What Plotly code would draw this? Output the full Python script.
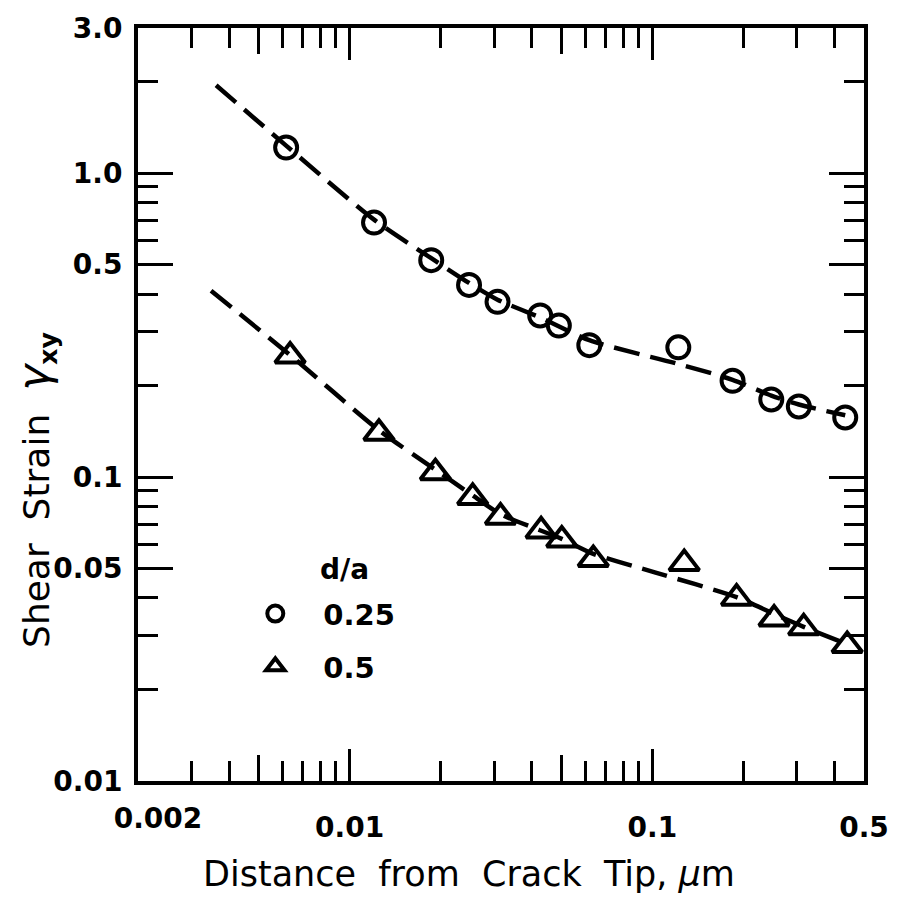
import math
import plotly.graph_objects as go

# Shear strain vs. distance from the crack tip, d/a = 0.25
dist_025 = [0.00617, 0.01204, 0.0186, 0.0248, 0.0308, 0.0426, 0.0491,
            0.0619, 0.1218, 0.184, 0.247, 0.3046, 0.4335]
strain_025 = [1.213, 0.687, 0.517, 0.4285, 0.377, 0.34, 0.315,
              0.2715, 0.267, 0.2073, 0.1799, 0.1706, 0.157]

# d/a = 0.5
dist_05 = [0.00636, 0.0125, 0.0192, 0.0255, 0.0315, 0.0429, 0.0502,
           0.0638, 0.1274, 0.1897, 0.2523, 0.316, 0.440]
strain_05 = [0.250, 0.1394, 0.1033, 0.0857, 0.0738, 0.0665, 0.0621,
             0.0535, 0.0519, 0.03995, 0.0341, 0.0319, 0.0279]

# Fitted trend curves (dashed)
fit_x_025 = [0.003622, 0.00617, 0.01204, 0.0186, 0.0248, 0.0308, 0.0426,
             0.0619, 0.1218, 0.184, 0.247, 0.3046, 0.4335]
fit_y_025 = [1.944, 1.231, 0.7025, 0.5245, 0.4349, 0.3831, 0.3348,
             0.2818, 0.2354, 0.2089, 0.1853, 0.1732, 0.1596]
fit_x_05 = [0.003486, 0.00636, 0.0125, 0.0192, 0.0255, 0.0315, 0.0502,
            0.0638, 0.1025, 0.1897, 0.2523, 0.316, 0.4433]
fit_y_05 = [0.4099, 0.2519, 0.1426, 0.1057, 0.0870, 0.0755, 0.0626,
            0.0559, 0.0485, 0.04026, 0.03543, 0.03215, 0.02809]

# Axis ticks
x_range = [0.002, 0.5]
y_range = [0.01, 3.0]
x_major = [0.01, 0.1, 0.5]
x_major_text = ["0.01", "0.1", "0.5"]
x_mid = [0.005, 0.05]
x_first = [0.002]
x_first_text = ["0.002"]
x_minor = [0.003, 0.004, 0.006, 0.007, 0.008, 0.009,
           0.02, 0.03, 0.04, 0.06, 0.07, 0.08, 0.09,
           0.2, 0.3, 0.4]
y_major = [0.01, 0.05, 0.1, 0.5, 1.0, 3.0]
y_major_text = ["0.01", "0.05", "0.1", "0.5", "1.0", "3.0"]
y_minor = [0.02, 0.03, 0.04, 0.06, 0.07, 0.08, 0.09,
           0.2, 0.3, 0.4, 0.6, 0.7, 0.8, 0.9, 2.0]

lx = [math.log10(v) for v in x_range]
ly = [math.log10(v) for v in y_range]

FONT = "DejaVu Sans"
INK = "black"

fig = go.Figure()

dash_line = dict(color=INK, width=4.5, dash="26px,11px", shape="spline", smoothing=0.7)
fig.add_trace(go.Scatter(x=fit_x_025, y=fit_y_025, mode="lines",
                         line=dash_line, showlegend=False, hoverinfo="skip"))
fig.add_trace(go.Scatter(x=fit_x_05, y=fit_y_05, mode="lines",
                         line=dash_line, showlegend=False, hoverinfo="skip"))

fig.add_trace(go.Scatter(
    x=dist_025, y=strain_025, mode="markers", name="0.25", legendgroup="a",
    marker=dict(symbol="circle-open", size=22, color=INK, line=dict(width=4, color=INK))))
fig.add_trace(go.Scatter(
    x=dist_05, y=strain_05, mode="markers", name="0.5", legendgroup="b",
    marker=dict(symbol="triangle-up-open", size=26, color=INK, line=dict(width=4, color=INK))))

# overlaid axes carrying the medium ticks and the first x label
fig.add_trace(go.Scatter(x=[None], y=[None], xaxis="x2", showlegend=False, hoverinfo="skip"))
fig.add_trace(go.Scatter(x=[None], y=[None], xaxis="x3", showlegend=False, hoverinfo="skip"))

tickfont = dict(family=FONT, size=28, color=INK, weight="bold")

fig.update_layout(
    width=901, height=905,
    margin=dict(l=138, r=32, t=23, b=124),
    paper_bgcolor="white", plot_bgcolor="white",
    showlegend=True,
    legend=dict(x=0.123, y=0.256, xanchor="left", yanchor="top",
                bgcolor="rgba(0,0,0,0)",
                font=dict(family=FONT, size=29, color=INK, weight="bold"),
                tracegroupgap=12, itemwidth=86),
    xaxis=dict(type="log", range=lx, showgrid=False, zeroline=False,
               showline=True, linewidth=4, linecolor=INK, mirror="ticks",
               ticks="inside", ticklen=32, tickwidth=3, tickcolor=INK,
               tickvals=x_major, ticktext=x_major_text, tickfont=tickfont,
               ticklabelstandoff=18,
               minor=dict(tickvals=x_minor, ticks="inside", ticklen=20,
                          tickwidth=3, tickcolor=INK, showgrid=False)),
    xaxis2=dict(type="log", range=lx, overlaying="x", anchor="y", side="bottom",
                showgrid=False, zeroline=False, showline=False, mirror="ticks",
                ticks="inside", ticklen=26, tickwidth=3, tickcolor=INK,
                tickvals=x_mid, showticklabels=False),
    xaxis3=dict(type="log", range=lx, overlaying="x", anchor="y", side="bottom",
                showgrid=False, zeroline=False, showline=False, ticks="",
                tickvals=x_first, ticktext=x_first_text, tickfont=tickfont,
                ticklabelstandoff=18, ticklabelshift=20),
    yaxis=dict(type="log", range=ly, showgrid=False, zeroline=False,
               showline=True, linewidth=4, linecolor=INK, mirror="ticks",
               ticks="inside", ticklen=35, tickwidth=3, tickcolor=INK,
               tickvals=y_major, ticktext=y_major_text, tickfont=tickfont,
               ticklabelstandoff=6,
               minor=dict(tickvals=y_minor, ticks="inside", ticklen=20,
                          tickwidth=3, tickcolor=INK, showgrid=False)),
    annotations=[
        dict(text="d/a", xref="paper", yref="paper", x=0.2845, y=0.281,
             showarrow=False, xanchor="center", yanchor="middle",
             font=dict(family=FONT, size=28, color=INK, weight="bold")),
        dict(text="Distance  from  Crack  Tip, <i>μ</i>m", xref="paper", yref="paper",
             x=0.4555, y=-0.124, showarrow=False, xanchor="center", yanchor="middle",
             font=dict(family=FONT, size=35, color=INK)),
        dict(text="Shear  Strain  <span style='font-size:44px'><i>γ</i></span><sub><b>xy</b></sub>",
             xref="paper", yref="paper",
             x=-0.141, y=0.386, showarrow=False, textangle=-90,
             xanchor="center", yanchor="middle",
             font=dict(family=FONT, size=36, color=INK)),
    ],
)

fig.write_html("out.html")
